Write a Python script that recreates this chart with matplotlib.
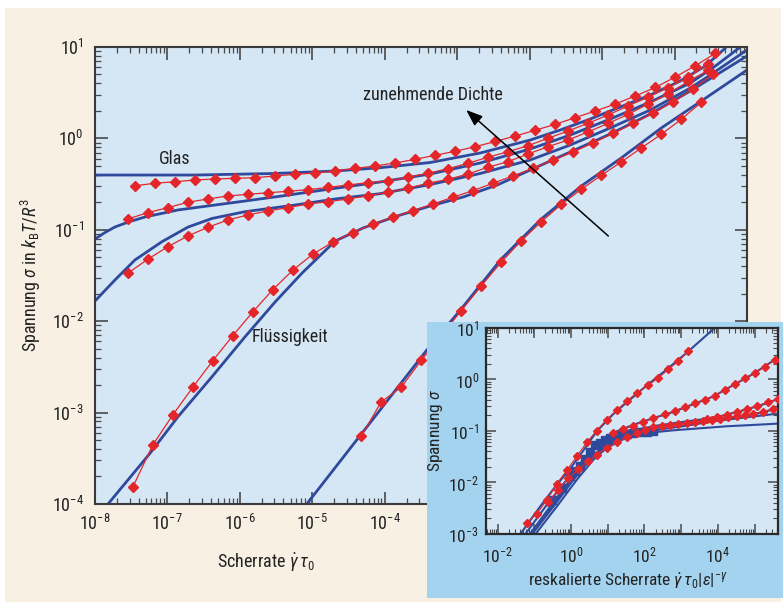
import numpy as np
import matplotlib
matplotlib.use('Agg')
import matplotlib.pyplot as plt
from matplotlib import font_manager as fm
from matplotlib.ticker import LogLocator, NullFormatter, FuncFormatter
from matplotlib.patches import Rectangle

# ---------------- data (log10 values) ----------------
# main panel: simulations (red diamonds)
s1_lx = [-7.448,-7.171,-6.895,-6.619,-6.343,-6.066,-5.790,-5.514,-5.238,-4.961,-4.685,-4.409,-4.133,-3.856,-3.580,
         -3.304,-3.028,-2.751,-2.475,-2.199,-1.923,-1.646,-1.370,-1.094,-0.818,-0.541,-0.265,0.011,0.287,0.564]
s1_ly = [-0.518,-0.491,-0.474,-0.455,-0.444,-0.437,-0.430,-0.411,-0.393,-0.379,-0.357,-0.329,-0.302,-0.269,-0.229,
         -0.185,-0.141,-0.091,-0.034,0.026,0.089,0.154,0.227,0.300,0.376,0.464,0.557,0.672,0.795,0.931]
s23_lx = [-7.548,-7.272,-6.995,-6.719,-6.443,-6.167,-5.891,-5.614,-5.338,-5.062,-4.786,-4.509,-4.233,-3.957,-3.681,
          -3.404,-3.128,-2.852,-2.576,-2.300,-2.023,-1.747,-1.471,-1.195,-0.918,-0.642,-0.366,-0.090,0.187,0.463]
s2_ly = [-0.882,-0.813,-0.758,-0.699,-0.663,-0.630,-0.612,-0.595,-0.579,-0.561,-0.537,-0.510,-0.485,-0.466,-0.426,
         -0.382,-0.332,-0.272,-0.207,-0.146,-0.080,0.001,0.081,0.165,0.256,0.355,0.450,0.555,0.668,0.814]
s3_ly = [-1.476,-1.323,-1.185,-1.068,-0.973,-0.893,-0.838,-0.794,-0.758,-0.718,-0.693,-0.663,-0.627,-0.592,-0.546,
         -0.491,-0.448,-0.390,-0.316,-0.255,-0.171,-0.091,-0.018,0.070,0.165,0.262,0.376,0.486,0.623,0.743]
s4_lx = [-7.479,-7.203,-6.926,-6.650,-6.374,-6.098,-5.822,-5.545,-5.269,-4.993,-4.717,-4.440,-4.164,-3.888,-3.612,
         -3.335,-3.059,-2.783,-2.507,-2.231,-1.954,-1.678,-1.402,-1.126,-0.849,-0.573,-0.297,-0.021,0.256,0.532]
s4_ly = [-3.817,-3.355,-3.026,-2.723,-2.432,-2.159,-1.899,-1.655,-1.442,-1.267,-1.134,-1.030,-0.939,-0.863,-0.791,
         -0.718,-0.644,-0.572,-0.491,-0.411,-0.327,-0.236,-0.149,-0.050,0.054,0.163,0.276,0.400,0.538,0.705]
s5_lx = [-4.326,-4.050,-3.774,-3.497,-3.221,-2.945,-2.669,-2.392,-2.116,-1.840,-1.564,-1.287,-1.011,-0.735,-0.459,
         -0.182,0.094,0.370]
s5_ly = [-3.261,-2.884,-2.723,-2.430,-2.157,-1.885,-1.615,-1.354,-1.120,-0.913,-0.723,-0.557,-0.404,-0.258,-0.105,
         0.045,0.209,0.395]

# main panel: theory (blue lines)
t1_lx = [-8,-6.619,-5.514,-4.685,-4.064,-3.373,-2.682,-1.992,-1.577,-1.163,-0.749,-0.334,0.080,0.425,0.702]
t1_ly = [-0.401,-0.401,-0.384,-0.357,-0.321,-0.264,-0.160,-0.018,0.092,0.212,0.344,0.475,0.628,0.792,0.989]
t2_lx = [-8,-7.862,-7.724,-7.517,-7.309,-6.854,-6.163,-5.472,-4.754,-4.064,-3.373,-2.682,-1.992,-1.439,-0.887,-0.334,0.218,0.564,0.909]
t2_ly = [-1.101,-1.030,-0.969,-0.909,-0.860,-0.783,-0.710,-0.636,-0.554,-0.477,-0.390,-0.269,-0.116,0.037,0.212,0.398,0.606,0.792,1.0]
t3_lx = [-8,-7.724,-7.448,-7.075,-6.715,-6.384,-5.928,-5.238,-4.685,-4.064,-3.373,-2.682,-1.992,-1.439,-0.887,-0.334,0.218,0.453,1.0]
t3_ly = [-1.779,-1.549,-1.330,-1.130,-0.970,-0.876,-0.802,-0.729,-0.663,-0.605,-0.505,-0.384,-0.236,-0.072,0.114,0.311,0.551,0.672,0.967]
t4_lx = [-7.820,-7.240,-6.854,-6.384,-5.928,-5.514,-5.141,-4.685,-4.298,-3.829,-3.373,-2.917,-2.448,-1.992,-1.439,-0.887,-0.334,0.218,0.453,1.0]
t4_ly = [-4.0,-3.445,-3.045,-2.607,-2.170,-1.790,-1.473,-1.123,-0.980,-0.849,-0.740,-0.641,-0.510,-0.346,-0.149,0.048,0.267,0.519,0.634,0.901]
t5_lx = [-5.076,-3.419,-2.945,-2.392,-1.840,-1.287,-0.735,-0.182,0.370,1.0]
t5_ly = [-4.0,-2.315,-1.867,-1.320,-0.882,-0.521,-0.214,0.114,0.409,0.748]

# inset: rescaled data
iA_lx = [-1.435,-0.845,-0.391,-0.027,0.336,0.699,1.153,1.608,2.062,2.607,3.152,3.924]
iA_ly = [-3.052,-2.468,-2.045,-1.734,-1.377,-1.006,-0.669,-0.390,-0.117,0.195,0.519,1.006]
iA_s_lx = [-1.208,-0.936,-0.663,-0.391,-0.118,0.154,0.427,0.699,0.972,1.244,1.517,1.789,2.107,2.380,2.652,2.925,3.197]
iA_s_ly = [-2.779,-2.610,-2.338,-2.026,-1.766,-1.494,-1.221,-0.994,-0.779,-0.597,-0.422,-0.260,-0.110,0.032,0.195,0.357,0.552]
iB_lx = [-1.299,-0.663,-0.118,0.336,0.790,1.244,1.698,2.243,2.788,3.333,3.878,4.423,4.968,5.649]
iB_ly = [-3.052,-2.435,-1.948,-1.558,-1.234,-1.006,-0.880,-0.750,-0.630,-0.480,-0.330,-0.110,0.110,0.430]
iB_s_lx = [1.153,1.426,1.698,1.971,2.243,2.561,2.834,3.106,3.379,3.651,3.924,4.196,4.469,4.741,5.014,5.286,5.559]
iB_s_ly = [-1.039,-0.961,-0.896,-0.818,-0.753,-0.675,-0.604,-0.532,-0.461,-0.390,-0.312,-0.195,-0.084,0.019,0.130,0.247,0.383]
iC_lx = [-1.208,-0.572,-0.027,0.427,0.881,1.335,1.789,2.334,2.970,3.515,4.060,4.605,5.150,5.649]
iC_ly = [-3.084,-2.468,-1.948,-1.591,-1.299,-1.104,-0.974,-0.896,-0.831,-0.779,-0.714,-0.617,-0.506,-0.377]
iC_s_lx = [3.697,3.969,4.242,4.514,4.787,5.059,5.377,5.649]
iC_s_ly = [-0.766,-0.734,-0.682,-0.623,-0.571,-0.513,-0.442,-0.377]
iD_lx = [-1.117,-0.481,0.064,0.518,0.972,1.426,1.880,2.516,3.152,3.878,4.605,5.150,5.649]
iD_ly = [-3.052,-2.435,-1.883,-1.558,-1.331,-1.156,-1.026,-0.909,-0.844,-0.779,-0.714,-0.649,-0.558]
iD_s_lx = [-0.618,-0.345,-0.073,0.200,0.472,0.699,0.972,1.244,1.517,1.789,2.016,2.243,2.470,2.698,2.925,3.152,
           3.379,3.606,3.833,4.060,4.287,4.514,4.741,4.968,5.241,5.513]
iD_s_ly = [-2.370,-2.143,-1.916,-1.740,-1.591,-1.461,-1.331,-1.221,-1.117,-1.039,-0.974,-0.922,-0.896,-0.877,-0.857,-0.838,
           -0.818,-0.799,-0.779,-0.760,-0.734,-0.714,-0.695,-0.662,-0.623,-0.571]
iE_lx = [-1.117,-0.481,0.064,0.518,0.972,1.426,1.880,2.516,3.152,3.878,4.787,5.649]
iE_ly = [-3.052,-2.468,-1.948,-1.558,-1.266,-1.104,-1.026,-0.961,-0.896,-0.812,-0.734,-0.662]
iF_lx = [-1.026,-0.391,0.154,0.609,1.063,1.517,2.062,2.788,3.515,4.242,4.968,5.649]
iF_ly = [-3.052,-2.468,-1.948,-1.558,-1.266,-1.117,-1.039,-0.987,-0.948,-0.909,-0.883,-0.857]
iSq_lx = [-0.527,-0.254,-0.027,0.109,0.245,0.381,0.518,0.654,0.790,0.926,1.063,1.199,1.335,1.517,1.698,1.880,2.062,2.243]
iSq_ly = [-2.338,-2.110,-1.883,-1.786,-1.688,-1.545,-1.416,-1.266,-1.234,-1.182,-1.136,-1.104,-1.078,-1.058,-1.039,-1.026,-1.013,-1.000]

# ---------------- fonts: a regular-weight condensed face if one exists ----------------
def _w(e):
    w = e.weight
    if isinstance(w, str):
        w = fm.weight_dict.get(w, 400)
    return w

def _has(name, style='normal', stretch=None):
    for e in fm.fontManager.ttflist:
        if e.name == name and e.style == style and 350 <= _w(e) <= 450:
            if stretch is None or str(e.stretch) in stretch:
                return True
    return False

FONT, STRETCH = None, 'normal'
for cand in ['Liberation Sans Narrow', 'Noto Sans Condensed', 'Roboto Condensed', 'Open Sans Condensed',
             'DejaVu Sans Condensed', 'Noto Sans SemiCondensed', 'Open Sans SemiCondensed']:
    if _has(cand):
        FONT = cand
        break
if FONT is None:
    for fam in ['Noto Sans', 'Open Sans', 'DejaVu Sans', 'Roboto']:
        for st in (['condensed', '75'], ['semi-condensed', '87.5']):
            if _has(fam, stretch=st):
                FONT, STRETCH = fam, st[0]
                break
        if FONT:
            break
if FONT is None:
    FONT = 'Liberation Sans'

mt_suffix = '' if STRETCH == 'normal' else ':stretch=' + STRETCH
plt.rcParams.update({
    'font.family': [FONT, 'DejaVu Sans'],
    'font.stretch': STRETCH,
    'mathtext.fontset': 'custom',
    'mathtext.rm': FONT + mt_suffix,
    'mathtext.it': FONT + ':italic' + mt_suffix,
    'mathtext.bf': FONT + ':bold' + mt_suffix,
    'mathtext.sf': FONT + mt_suffix,
})

FS = 13 if FONT != 'Liberation Sans' else 11.5

CREAM = '#f9f0e4'
PLOTBG = '#d5e6f4'
PANEL = '#a4d3ef'
BLUE = '#2f4a9c'
RED = '#e4262a'
TICK = '#4a4a4a'

P = lambda a: 10.0 ** np.asarray(a)

fig = plt.figure(figsize=(7.83, 6.07), dpi=100)
fig.patch.set_facecolor('white')
fig.add_artist(Rectangle((0.0064, 0.0082), 0.991, 0.9786, transform=fig.transFigure,
                         facecolor=CREAM, edgecolor='none', zorder=-10))

# ---------------- main axes ----------------
ax = fig.add_axes([0.1213, 0.1697, 0.8327, 0.7529])
ax.set_facecolor(PLOTBG)
ax.set_xscale('log'); ax.set_yscale('log')
ax.set_xlim(1e-8, 10); ax.set_ylim(1e-4, 10)

for lx, ly in [(t1_lx, t1_ly), (t2_lx, t2_ly), (t3_lx, t3_ly), (t4_lx, t4_ly), (t5_lx, t5_ly)]:
    ax.plot(P(lx), P(ly), color=BLUE, lw=2.0, zorder=2, solid_capstyle='round', solid_joinstyle='round')
for lx, ly in [(s1_lx, s1_ly), (s23_lx, s2_ly), (s23_lx, s3_ly), (s4_lx, s4_ly), (s5_lx, s5_ly)]:
    ax.plot(P(lx), P(ly), color=RED, lw=0.9, marker='D', ms=5, mec=RED, mfc=RED, zorder=3)

ax.text(P(-6.902), P(-0.225), 'Glas', ha='center', va='center', fontsize=FS, color='#222')
ax.text(P(-5.307), P(-2.173), 'Flüssigkeit', ha='center', va='center', fontsize=FS, color='#222')
ax.text(P(-3.331), P(0.475), 'zunehmende Dichte', ha='center', va='center', fontsize=FS, color='#222')
ax.annotate('', xy=(P(-2.876), P(0.311)), xytext=(P(-0.914), P(-1.068)),
            arrowprops=dict(arrowstyle='-|>,head_length=1.0,head_width=0.38', color='black',
                            lw=1.1, shrinkA=0, shrinkB=0), zorder=4)

def main_xfmt(v, pos):
    e = int(round(np.log10(v)))
    return r'$\mathdefault{10^{%d}}$' % e if e <= -4 else ''

for a in (ax.xaxis, ax.yaxis):
    a.set_major_locator(LogLocator(10, numticks=30))
    a.set_minor_locator(LogLocator(10, subs=np.arange(2, 10), numticks=300))
    a.set_minor_formatter(NullFormatter())
ax.xaxis.set_major_formatter(FuncFormatter(main_xfmt))
ax.tick_params(which='both', direction='in', top=True, right=True, colors=TICK, labelcolor='#222')
ax.tick_params(which='major', length=9, width=1.2, labelsize=FS)
ax.tick_params(which='minor', length=4.5, width=0.9)
ax.tick_params(axis='x', which='major', pad=7)
ax.tick_params(axis='y', which='major', pad=8)
for s in ax.spines.values():
    s.set_color('#3a3a3a'); s.set_linewidth(1.5)

ax.set_xlabel(r'Scherrate $\dot{\gamma}\,\tau_0$', fontsize=FS, color='#222')
ax.xaxis.set_label_coords(0.262, -0.105)
ax.set_ylabel(r'Spannung $\sigma$ in $k_\mathrm{B}T/R^3$', fontsize=FS, color='#222')
ax.yaxis.set_label_coords(-0.080, 0.50)

# ---------------- inset ----------------
fig.add_artist(Rectangle((0.5453, 0.0148), 0.4547, 0.4547, transform=fig.transFigure,
                         facecolor=PANEL, edgecolor='none', zorder=1))
axi = fig.add_axes([0.6207, 0.1203, 0.3729, 0.3394])
axi.set_zorder(2)
axi.set_facecolor(PLOTBG)
axi.set_xscale('log'); axi.set_yscale('log')
axi.set_xlim(P(-2.32), P(5.64)); axi.set_ylim(1e-3, 10)

for lx, ly in [(iA_lx, iA_ly), (iB_lx, iB_ly), (iC_lx, iC_ly), (iD_lx, iD_ly), (iE_lx, iE_ly), (iF_lx, iF_ly)]:
    axi.plot(P(lx), P(ly), color=BLUE, lw=1.5, zorder=2)
axi.plot(P(iSq_lx), P(iSq_ly), ls='none', marker='s', ms=5.5, color=BLUE, zorder=3)
for lx, ly, ms in [(iA_s_lx, iA_s_ly, 4.2), (iB_s_lx, iB_s_ly, 4.2), (iC_s_lx, iC_s_ly, 4.2), (iD_s_lx, iD_s_ly, 3.6)]:
    axi.plot(P(lx), P(ly), color=RED, lw=0.8, marker='D', ms=ms, mec=RED, mfc=RED, zorder=4)

def even_fmt(v, pos):
    e = int(round(np.log10(v)))
    return r'$\mathdefault{10^{%d}}$' % e if e % 2 == 0 else ''

axi.xaxis.set_major_locator(LogLocator(10, numticks=30))
axi.xaxis.set_major_formatter(FuncFormatter(even_fmt))
axi.yaxis.set_major_locator(LogLocator(10, numticks=30))
for a in (axi.xaxis, axi.yaxis):
    a.set_minor_locator(LogLocator(10, subs=np.arange(2, 10), numticks=300))
    a.set_minor_formatter(NullFormatter())
axi.tick_params(which='both', direction='in', top=True, right=True, colors=TICK, labelcolor='#222')
axi.tick_params(which='major', length=7.5, width=1.1, labelsize=FS - 0.5)
axi.tick_params(which='minor', length=3.6, width=0.8)
axi.tick_params(axis='x', which='major', pad=8)
axi.tick_params(axis='y', which='major', pad=5)
for s in axi.spines.values():
    s.set_color('#2a2a2a'); s.set_linewidth(1.6)
axi.set_xlabel(r'reskalierte Scherrate $\dot{\gamma}\,\tau_0\vert\varepsilon\vert^{-\gamma}$', fontsize=FS - 0.5, color='#222')
axi.xaxis.set_label_coords(0.486, -0.175)
axi.set_ylabel(r'Spannung $\sigma$', fontsize=FS - 0.5, color='#222')
axi.yaxis.set_label_coords(-0.14, 0.5)

fig.savefig('out.png', dpi=100, facecolor=fig.get_facecolor())
